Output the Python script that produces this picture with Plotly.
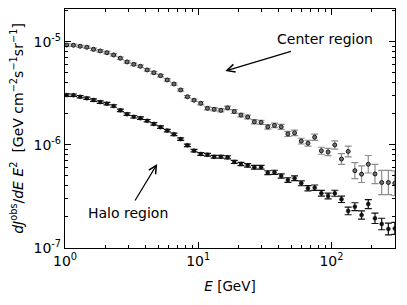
import plotly.graph_objects as go

# Energies [GeV] (bin centres)
energy = [1.03, 1.157, 1.299, 1.458, 1.637, 1.838, 2.064, 2.318, 2.603, 2.922,
          3.281, 3.684, 4.137, 4.645, 5.215, 5.856, 6.575, 7.382, 8.289, 9.305,
          10.45, 11.73, 13.17, 14.79, 16.61, 18.64, 20.93, 23.50, 26.39, 29.63,
          33.27, 37.35, 41.94, 47.09, 52.87, 59.36, 66.65, 74.84, 84.03, 94.34,
          105.9, 118.9, 133.5, 149.9, 168.3, 189.0, 212.2, 238.3, 267.5, 299.0]

center_flux = [9.35e-6, 9.3e-6, 9.08e-6, 8.89e-6, 8.49e-6, 8.18e-6, 7.87e-6, 7.48e-6, 6.95e-6, 6.4e-6,
               6.07e-6, 5.81e-6, 5.35e-6, 5.03e-6, 4.71e-6, 4.28e-6, 3.91e-6, 3.42e-6, 2.94e-6, 2.72e-6,
               2.54e-6, 2.27e-6, 2.22e-6, 2.17e-6, 2.29e-6, 2.11e-6, 1.95e-6, 1.87e-6, 1.68e-6, 1.66e-6,
               1.50e-6, 1.55e-6, 1.50e-6, 1.28e-6, 1.31e-6, 1.09e-6, 1.04e-6, 1.19e-6, 8.79e-7, 8.55e-7,
               1.0e-6, 7.31e-7, 8.65e-7, 5.63e-7, 5.21e-7, 6.5e-7, 5.23e-7, 4.32e-7, 4.32e-7, 4.26e-7]

# error half-widths in dex
center_err_dex = [0.012] * 20 + [0.015, 0.015, 0.016, 0.016, 0.017, 0.018, 0.018, 0.019, 0.02, 0.02,
                                 0.022, 0.022, 0.024, 0.025, 0.026, 0.028, 0.029, 0.03, 0.034, 0.036,
                                 0.04, 0.053, 0.052, 0.078, 0.081, 0.085, 0.094, 0.118, 0.118, 0.12]

halo_flux = [3.05e-6, 3.04e-6, 2.94e-6, 2.84e-6, 2.73e-6, 2.61e-6, 2.52e-6, 2.39e-6, 2.17e-6, 1.99e-6,
             1.88e-6, 1.82e-6, 1.72e-6, 1.60e-6, 1.49e-6, 1.38e-6, 1.27e-6, 1.14e-6, 9.93e-7, 8.81e-7,
             8.18e-7, 8.05e-7, 7.69e-7, 7.69e-7, 7.59e-7, 6.84e-7, 6.54e-7, 6.35e-7, 6.07e-7, 6.07e-7,
             5.38e-7, 5.43e-7, 5.0e-7, 4.57e-7, 4.75e-7, 4.25e-7, 3.80e-7, 3.85e-7, 3.40e-7, 3.2e-7,
             3.40e-7, 2.97e-7, 2.29e-7, 2.52e-7, 2.09e-7, 2.67e-7, 1.94e-7, 1.71e-7, 1.53e-7, 1.55e-7]

halo_err_dex = [0.012] * 20 + [0.013, 0.013, 0.014, 0.014, 0.015, 0.015, 0.016, 0.017, 0.018, 0.018,
                               0.019, 0.02, 0.021, 0.022, 0.023, 0.024, 0.025, 0.026, 0.027, 0.028,
                               0.029, 0.031, 0.037, 0.038, 0.04, 0.044, 0.05, 0.056, 0.057, 0.058]

x_tickvals = [1, 10, 100]
x_ticktext = ["10<sup>0</sup>", "10<sup>1</sup>", "10<sup>2</sup>"]
y_tickvals = [1e-7, 1e-6, 1e-5]
y_ticktext = ["10<sup>-7</sup>", "10<sup>-6</sup>", "10<sup>-5</sup>"]


def err_arrays(vals, dex):
    plus = [v * (10 ** d - 1) for v, d in zip(vals, dex)]
    minus = [v * (1 - 10 ** (-d)) for v, d in zip(vals, dex)]
    return plus, minus


cp, cm = err_arrays(center_flux, center_err_dex)
hp, hm = err_arrays(halo_flux, halo_err_dex)

fig = go.Figure()
fig.add_trace(go.Scatter(
    x=energy, y=center_flux, mode="markers",
    marker=dict(symbol="circle", size=4, color="#707070", line=dict(color="#1a1a1a", width=1)),
    error_y=dict(type="data", array=cp, arrayminus=cm, color="#8c8c8c", thickness=1.2, width=3.5),
    showlegend=False, cliponaxis=True))
fig.add_trace(go.Scatter(
    x=energy, y=halo_flux, mode="markers",
    marker=dict(symbol="circle", size=4, color="#111111", line=dict(color="#111111", width=0.5)),
    error_y=dict(type="data", array=hp, arrayminus=hm, color="#111111", thickness=1.2, width=3.5),
    showlegend=False, cliponaxis=True))

minor_x = [v * m for v in (1, 10, 100) for m in range(2, 10) if v * m <= 300]
minor_y = [v * m for v in (1e-7, 1e-6, 1e-5) for m in range(2, 10) if v * m <= 2.1e-5]

font = "DejaVu Sans"
# page body has an 8px margin: the figure is sized/positioned to compensate
fig.update_layout(
    width=399, height=297,
    margin=dict(l=57, r=12, t=1, b=57),
    paper_bgcolor="white", plot_bgcolor="white",
    font=dict(family=font, size=12, color="black"),
    xaxis=dict(type="log", range=[0, 2.477], tickvals=x_tickvals, ticktext=x_ticktext,
               ticks="inside", ticklen=6, tickwidth=1, tickcolor="black", automargin=False,
               showline=True, linecolor="black", linewidth=1.2, mirror="allticks",
               showgrid=False, zeroline=False, tickfont=dict(size=14),
               minor=dict(tickvals=minor_x, ticks="inside", ticklen=3, tickcolor="black", tickwidth=0.8),
               title=dict(text="<i>E</i> [GeV]", font=dict(size=13.5), standoff=13)),
    yaxis=dict(type="log", range=[-7, -4.68], tickvals=y_tickvals, ticktext=y_ticktext,
               ticks="inside", ticklen=6, tickwidth=1, tickcolor="black", automargin=False,
               showline=True, linecolor="black", linewidth=1.2, mirror="allticks",
               showgrid=False, zeroline=False, tickfont=dict(size=14),
               minor=dict(tickvals=minor_y, ticks="inside", ticklen=3, tickcolor="black", tickwidth=0.8),
               title=dict(text="<i>dJ</i><sup>obs</sup>/<i>dE E</i><sup>2</sup>  [GeV cm<sup>\u22122</sup>s<sup>\u22121</sup>sr<sup>\u22121</sup>]",
                          font=dict(size=14), standoff=6)),
    annotations=[
        dict(x=1.955, y=-4.971, xref="x", yref="y", text="Center region", showarrow=False,
             font=dict(size=14, family=font)),
        dict(x=1.203, y=-5.282, ax=1.707, ay=-5.087, xref="x", yref="y", axref="x", ayref="y",
             text="", showarrow=True, arrowhead=5, arrowsize=1.3, arrowwidth=1.2, arrowcolor="black"),
        dict(x=0.474, y=-6.66, xref="x", yref="y", text="Halo region", showarrow=False,
             font=dict(size=14, family=font)),
        dict(x=0.692, y=-6.184, ax=0.519, ay=-6.553, xref="x", yref="y", axref="x", ayref="y",
             text="", showarrow=True, arrowhead=5, arrowsize=1.3, arrowwidth=1.2, arrowcolor="black"),
    ],
)

fig.write_html("out.html")
